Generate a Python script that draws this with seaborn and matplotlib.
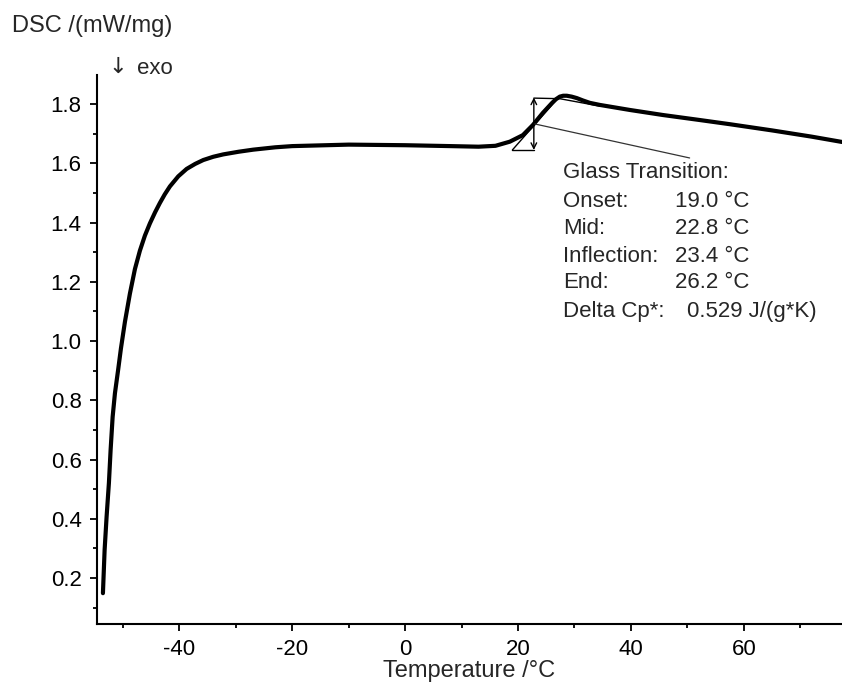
import matplotlib
matplotlib.use("Agg")
import matplotlib.pyplot as plt
from matplotlib.ticker import MultipleLocator, FormatStrFormatter
import seaborn as sns
import pandas as pd

# ---- data ----
temperature = [-53.55, -53.25, -52.90, -52.49, -52.19, -51.83, -51.42, -50.84, -50.36,
               -49.65, -48.77, -47.88, -47.00, -46.11, -45.23, -44.30, -43.46, -42.60,
               -41.68, -40.20, -38.72, -37.20, -35.77, -34.00, -32.24, -29.50, -26.93,
               -23.0, -20.0, -10.0, 0.0, 8.0, 13.0, 16.0, 18.55,
               20.85, 22.62, 24.39, 25.99, 26.70, 27.40, 28.00, 28.64, 29.50, 30.42,
               31.50, 32.72, 34.49, 39.81, 45.65, 52.21, 57.5, 65.0, 72.0, 77.4]
dsc = [0.149, 0.295, 0.407, 0.521, 0.632, 0.744, 0.824, 0.905, 0.975,
       1.065, 1.160, 1.243, 1.305, 1.356, 1.397, 1.435, 1.466, 1.495,
       1.522, 1.556, 1.581, 1.598, 1.611, 1.622, 1.630, 1.639, 1.646,
       1.654, 1.658, 1.663, 1.661, 1.658, 1.656, 1.659, 1.673,
       1.695, 1.729, 1.770, 1.803, 1.816, 1.825, 1.828, 1.828, 1.825, 1.820,
       1.812, 1.804, 1.797, 1.780, 1.763, 1.746, 1.732, 1.711, 1.690, 1.672]

# glass transition evaluation
gt_onset, gt_mid, gt_inflection, gt_end = 19.0, 22.8, 23.4, 26.2
base_low, base_high = 1.645, 1.822
upper_base_T = [22.8, 27.4, 34.5]
upper_base_v = [1.820, 1.818, 1.793]
leader_end = (50.4, 1.618)

gt_labels = ["Glass Transition:", "Onset:", "Mid:", "Inflection:", "End:", "Delta Cp*:"]
gt_values = ["", "19.0 \u00b0C", "22.8 \u00b0C", "23.4 \u00b0C", "26.2 \u00b0C", "0.529 J/(g*K)"]

x_ticks = [-40, -20, 0, 20, 40, 60]
y_ticks = [0.2, 0.4, 0.6, 0.8, 1.0, 1.2, 1.4, 1.6, 1.8]

# ---- styling ----
sns.set_style("ticks")
plt.rcParams['font.family'] = ['Liberation Sans', 'DejaVu Sans']
plt.rcParams['axes.unicode_minus'] = False
FS = 16

W, H = 842, 685
fig = plt.figure(figsize=(W / 100, H / 100), dpi=100)
ax = fig.add_axes([97 / W, 61 / H, 745 / W, 549 / H])

df = pd.DataFrame({"T": temperature, "DSC": dsc})
sns.lineplot(data=df, x="T", y="DSC", ax=ax, color="black", linewidth=3.0,
             sort=False, estimator=None)
for ln in ax.get_lines():
    ln.set_solid_joinstyle("round")
    ln.set_solid_capstyle("round")

# construction lines
thin = dict(color="black", linewidth=1.0)
ax.plot([gt_onset, gt_mid], [base_low, base_low], **thin)
ax.plot([gt_onset, gt_end + 1.2], [base_low, base_high + 0.005], **thin)
ax.plot(upper_base_T, upper_base_v, **thin)
ax.annotate("", xy=(gt_mid, base_high), xytext=(gt_mid, base_low),
            arrowprops=dict(arrowstyle="<->", color="black", lw=1.0,
                            mutation_scale=10, shrinkA=0, shrinkB=0))
mid_v = (base_low + base_high) / 2
ax.plot([gt_mid, leader_end[0]], [mid_v, leader_end[1]], color="#333333", linewidth=0.9)

ax.set_xlim(-54.6, 77.4)
ax.set_ylim(0.045, 1.898)
ax.set_xticks(x_ticks)
ax.set_yticks(y_ticks)
ax.xaxis.set_minor_locator(MultipleLocator(10))
ax.yaxis.set_minor_locator(MultipleLocator(0.1))
ax.yaxis.set_major_formatter(FormatStrFormatter('%.1f'))
ax.xaxis.set_major_formatter(FormatStrFormatter('%d'))
ax.tick_params(axis='both', which='major', direction='out', length=5, width=1.3,
               labelsize=FS, pad=6, color='black', labelcolor='black')
ax.tick_params(axis='both', which='minor', direction='out', length=3, width=1.3,
               color='black')
for s in ["top", "right"]:
    ax.spines[s].set_visible(False)
for s in ["left", "bottom"]:
    ax.spines[s].set_linewidth(1.5)
    ax.spines[s].set_color("black")

ax.set_xlabel("Temperature /\u00b0C", fontsize=17, labelpad=0)
ax.set_ylabel("")

fig.text(12 / W, 1 - 26 / H, "DSC /(mW/mg)", fontsize=17, ha="left", va="center")
fig.text(108 / W, 1 - 67 / H, "\u2193", fontsize=FS, ha="left", va="center",
         family=['DejaVu Sans'])
fig.text(137 / W, 1 - 68 / H, "exo", fontsize=FS, ha="left", va="center")

rows_y = [172, 202, 229, 256, 283, 311]
for lab, val, yy in zip(gt_labels, gt_values, rows_y):
    fig.text(563 / W, 1 - yy / H, lab, fontsize=FS, ha="left", va="center")
    if val:
        xv = 687 if val.startswith("0.") else 675
        fig.text(xv / W, 1 - yy / H, val, fontsize=FS, ha="left", va="center")

fig.savefig("out.png", dpi=100, facecolor="white")
